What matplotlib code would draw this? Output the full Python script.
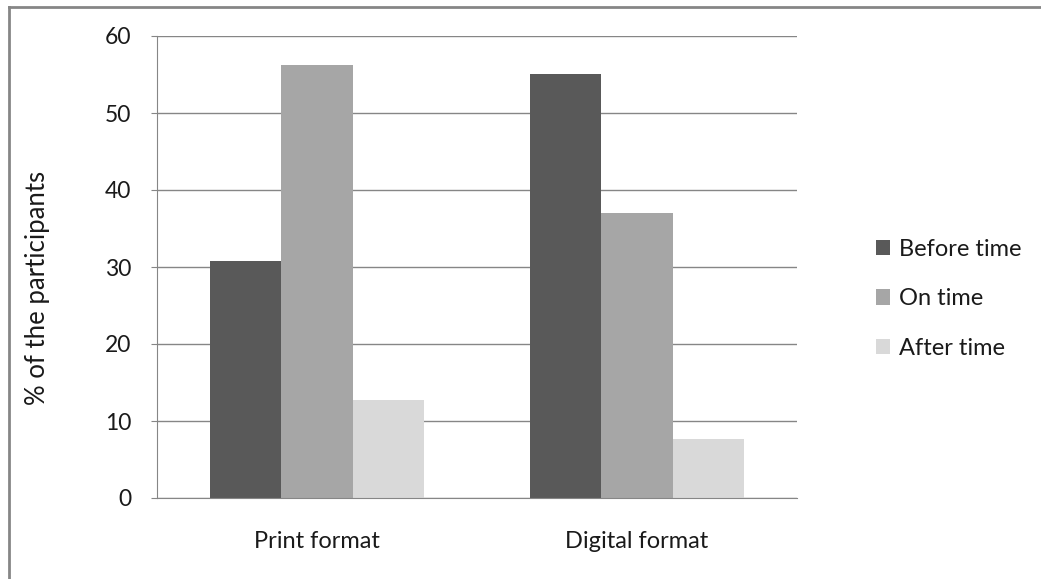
import numpy as np
import matplotlib
matplotlib.use('Agg')
import matplotlib.pyplot as plt
from matplotlib.lines import Line2D

plt.rcParams['font.family'] = ['Lato', 'DejaVu Sans']

categories = ['Print format', 'Digital format']
series_names = ['Before time', 'On time', 'After time']
before_time = [30.8, 55.1]
on_time = [56.2, 37.0]
after_time = [12.7, 7.7]
colors = ['#595959', '#a6a6a6', '#d9d9d9']
y_ticks = [0, 10, 20, 30, 40, 50, 60]

fig = plt.figure(figsize=(10.41, 5.79), dpi=100)
ax = fig.add_axes([157 / 1041, 1 - 498 / 579, 640 / 1041, 462 / 579])

x = np.arange(len(categories))
width = 0.222
for i, (vals, name) in enumerate(zip([before_time, on_time, after_time], series_names)):
    ax.bar(x + (i - 1) * width, vals, width, color=colors[i], label=name, zorder=3)

ax.set_xlim(-0.5, 1.5)
ax.set_ylim(0, 60)
ax.set_yticks(y_ticks)
ax.yaxis.grid(True, color='#868686', linewidth=1.0, zorder=0)
for side in ['top', 'right']:
    ax.spines[side].set_visible(False)
ax.spines['left'].set_color('#868686')
ax.spines['bottom'].set_color('#868686')
ax.spines['bottom'].set_zorder(4)
ax.set_xticks(x)
ax.set_xticklabels(categories, fontsize=17, color='#1a1a1a')
ax.tick_params(axis='x', length=0, pad=24)
ax.tick_params(axis='y', length=4, color='#868686', labelsize=16.5, labelcolor='#1a1a1a', pad=14.5)
ax.set_ylabel('% of the participants', fontsize=18.5, color='#1a1a1a')
ax.yaxis.set_label_coords(-0.167, 0.455)

leg = ax.legend(loc='center left', bbox_to_anchor=(1.123, 0.431), frameon=False, fontsize=17,
                handlelength=0.62, handleheight=0.62, handletextpad=0.35, labelspacing=1.2,
                borderpad=0, borderaxespad=0)
for t in leg.get_texts():
    t.set_color('#1a1a1a')

# outer chart border (top and left edges visible)
fig.add_artist(Line2D([8.5 / 1041, 8.5 / 1041], [0, 1 - 6.5 / 579], transform=fig.transFigure,
                      color='#868686', linewidth=2))
fig.add_artist(Line2D([8.5 / 1041, 1], [1 - 6.5 / 579, 1 - 6.5 / 579], transform=fig.transFigure,
                      color='#868686', linewidth=2))

fig.savefig('out.png', dpi=100)
